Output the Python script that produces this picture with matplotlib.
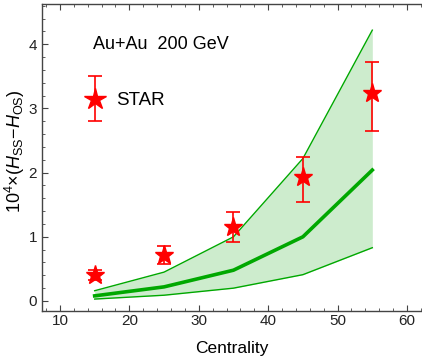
import matplotlib
matplotlib.use("Agg")
import matplotlib.pyplot as plt
from matplotlib.ticker import MultipleLocator

plt.rcParams["font.family"] = ["Liberation Sans", "DejaVu Sans"]
plt.rcParams["mathtext.fontset"] = "custom"
plt.rcParams["mathtext.rm"] = "Liberation Sans"
plt.rcParams["mathtext.it"] = "Liberation Sans:italic"

# model band (centrality bins)
cent = [15, 25, 35, 45, 55]
band_upper = [0.16, 0.45, 1.00, 2.22, 4.22]
band_mid = [0.08, 0.22, 0.48, 1.00, 2.04]
band_lower = [0.03, 0.09, 0.20, 0.41, 0.83]

# STAR data
star_x = [15, 25, 35, 45, 55]
star_y = [0.40, 0.71, 1.15, 1.93, 3.24]
star_lo = [0.32, 0.57, 0.92, 1.55, 2.65]
star_hi = [0.49, 0.85, 1.38, 2.25, 3.72]

# legend symbol drawn inside the plot
leg_x, leg_y, leg_lo, leg_hi = 15, 3.15, 2.80, 3.51

green = "#00a800"
red = "#ff0000"

fig = plt.figure(figsize=(4.22, 3.6), dpi=100)
ax = fig.add_axes([0.0995, 0.137, 0.9005, 0.852])

ax.fill_between(cent, band_lower, band_upper, color="#cdeccd", lw=0)
ax.plot(cent, band_upper, color=green, lw=1.0)
ax.plot(cent, band_lower, color=green, lw=1.0)
ax.plot(cent, band_mid, color=green, lw=2.6)

yerr = [[y - l for y, l in zip(star_y, star_lo)], [h - y for y, h in zip(star_y, star_hi)]]
ax.errorbar(star_x, star_y, yerr=yerr, fmt="*", color=red, ms=14, capsize=5,
            elinewidth=1.2, capthick=1.2, zorder=5)
ax.errorbar([leg_x], [leg_y], yerr=[[leg_y - leg_lo], [leg_hi - leg_y]], fmt="*",
            color=red, ms=16, capsize=5, elinewidth=1.2, capthick=1.2, zorder=5)

ax.text(14.8, 4.0, "Au+Au  200 GeV", fontsize=13, va="center", ha="left")
ax.text(18.1, 3.13, "STAR", fontsize=13.5, va="center", ha="left")

ax.set_xlim(7.41, 62.16)
ax.set_ylim(-0.151, 4.628)
ax.xaxis.set_major_locator(MultipleLocator(10))
ax.xaxis.set_minor_locator(MultipleLocator(2))
ax.yaxis.set_major_locator(MultipleLocator(1))
ax.yaxis.set_minor_locator(MultipleLocator(0.2))
ax.tick_params(which="both", direction="in", top=True, right=False, labelsize=11, color="#444444",
               labelcolor="#222222")
ax.tick_params(axis="x", pad=2.5)
ax.tick_params(which="major", length=4)
ax.tick_params(which="minor", length=2)
ax.spines["right"].set_visible(False)
for s in ["left", "top", "bottom"]:
    ax.spines[s].set_color("#444444")
    ax.spines[s].set_linewidth(1.0)

ax.set_xlabel("Centrality", fontsize=12.5)
ax.set_ylabel(r"10$^4$×($H_{\rm SS}$−$H_{\rm OS}$)", fontsize=13)
ax.xaxis.set_label_coords(0.5, -0.1)
ax.yaxis.set_label_coords(-0.04, 0.52)

fig.savefig("out.png", dpi=100)
